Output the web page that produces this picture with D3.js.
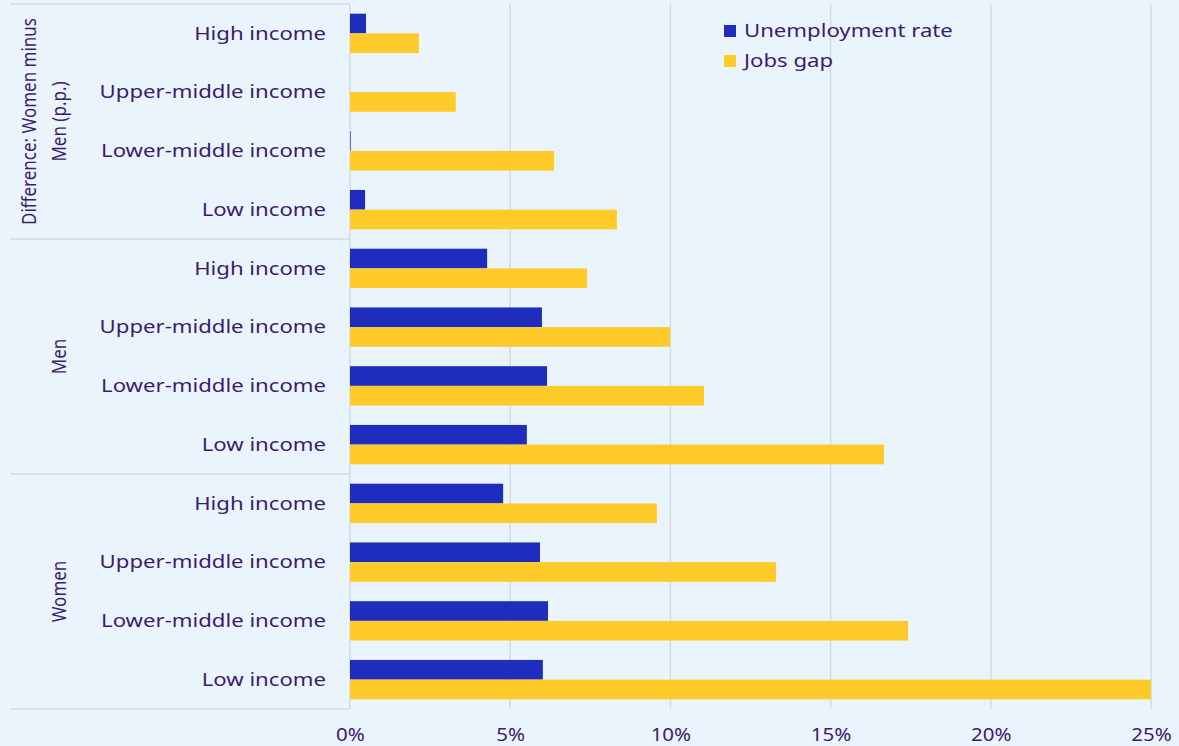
<!DOCTYPE html>
<html>
<head>
<meta charset="utf-8">
<script src="https://cdn.jsdelivr.net/npm/d3@7"></script>
<style>
  body { margin: 0; background: #eaf4fd; }
  svg { display: block; font-family: "Noto Sans", "Open Sans", sans-serif; }
</style>
</head>
<body>
<svg id="chart" width="1179" height="746"></svg>
<script>
// groups top to bottom, income levels within each group
var groups = ["Difference: Women minus Men (p.p.)", "Men", "Women"];
var groupLines = [["Difference: Women minus", "Men (p.p.)"], ["Men"], ["Women"]];
var incomes = ["High income", "Upper-middle income", "Lower-middle income", "Low income"];
var seriesNames = ["Unemployment rate", "Jobs gap"];
var colors = ["#1e2dbe", "#ffcb2b"];

// values in %, same order as groups x incomes
var unemployment = [0.5, 0, 0.02, 0.47, 4.28, 5.99, 6.15, 5.52, 4.78, 5.93, 6.18, 6.02];
var jobsGap = [2.15, 3.3, 6.37, 8.33, 7.4, 9.99, 11.05, 16.67, 9.58, 13.3, 17.42, 25.0];
var xTicks = [0, 5, 10, 15, 20, 25];

var textColor = "#3a1d6e";
var gridColor = "#d6d9e0";

var svg = d3.select("#chart");
var plotTop = 4, plotBottom = 709, plotLeft = 350, plotRight = 1151;

// the reference glyphs are a bit wider than Noto Sans: stretch text horizontally
function widen(sel, factor) {
    sel.each(function () {
        var w = this.getComputedTextLength();
        d3.select(this).attr("textLength", w * factor).attr("lengthAdjust", "spacingAndGlyphs");
    });
}

var rows = [];
groups.forEach(function (g, gi) {
    incomes.forEach(function (inc, ii) {
        var k = gi * incomes.length + ii;
        rows.push({ key: k, group: gi, label: inc, values: [unemployment[k], jobsGap[k]] });
    });
});

var x = d3.scaleLinear().domain([0, 25]).range([plotLeft, plotRight]);
var y = d3.scaleBand().domain(rows.map(function (d) { return d.key; }))
    .range([plotTop, plotBottom]).paddingInner(0.33).paddingOuter(0.165);
var ySub = d3.scaleBand().domain([0, 1]).range([0, y.bandwidth()]);

// grid lines
svg.append("g").selectAll("line")
    .data(xTicks.slice(1))
    .enter().append("line")
        .attr("x1", function (d) { return x(d); })
        .attr("x2", function (d) { return x(d); })
        .attr("y1", plotTop)
        .attr("y2", plotBottom)
        .attr("stroke", gridColor)
        .attr("stroke-width", 1.5);

// x axis labels
var xAxis = svg.append("g")
    .attr("transform", "translate(0," + plotBottom + ")")
    .call(d3.axisBottom(x).tickValues(xTicks).tickFormat(function (d) { return d + "%"; }).tickSize(0).tickPadding(19));
xAxis.select(".domain").remove();
xAxis.selectAll("text").attr("fill", textColor).attr("font-size", 18)
    .attr("font-family", "'Noto Sans', sans-serif")
    .call(widen, 1.14);

// group separators
var groupEdges = [0, 1, 2, 3].map(function (i) {
    return i === 0 ? plotTop : (i === 3 ? plotBottom : (y(i * 4 - 1) + y.bandwidth() + y(i * 4)) / 2);
});
svg.append("g").selectAll("line")
    .data(groupEdges)
    .enter().append("line")
        .attr("x1", 10)
        .attr("x2", plotLeft)
        .attr("y1", function (d) { return d; })
        .attr("y2", function (d) { return d; })
        .attr("stroke", gridColor)
        .attr("stroke-width", 1.5);

// y axis line
svg.append("line")
    .attr("x1", plotLeft).attr("x2", plotLeft)
    .attr("y1", plotTop).attr("y2", plotBottom)
    .attr("stroke", gridColor).attr("stroke-width", 1.5);

// bars
var rowG = svg.append("g").selectAll("g")
    .data(rows)
    .enter().append("g")
        .attr("transform", function (d) { return "translate(0," + y(d.key) + ")"; });

rowG.selectAll("rect")
    .data(function (d) { return d.values; })
    .enter().append("rect")
        .attr("x", x(0))
        .attr("y", function (d, i) { return ySub(i); })
        .attr("width", function (d) { return x(d) - x(0); })
        .attr("height", ySub.bandwidth())
        .attr("fill", function (d, i) { return colors[i]; });

// category labels
rowG.append("text")
    .attr("x", 326)
    .attr("y", y.bandwidth() / 2)
    .attr("dy", "0.35em")
    .attr("text-anchor", "end")
    .attr("fill", textColor)
    .attr("font-size", 18)
    .text(function (d) { return d.label; })
    .call(widen, 1.23);

// group labels
groupLines.forEach(function (lines, gi) {
    var cy = (groupEdges[gi] + groupEdges[gi + 1]) / 2;
    var t = svg.append("text")
        .attr("transform", "translate(" + (lines.length > 1 ? 36 : 66) + "," + cy + ") scale(1.15,1) rotate(-90)")
        .attr("text-anchor", "middle")
        .attr("fill", textColor)
        .attr("font-size", 17);
    lines.forEach(function (l, li) {
        t.append("tspan")
            .attr("x", 0)
            .attr("dy", li === 0 ? "0" : "1.55em")
            .text(l);
    });
});

// legend
var legend = svg.append("g").attr("transform", "translate(724,31)");
seriesNames.forEach(function (name, i) {
    var lg = legend.append("g").attr("transform", "translate(0," + (i * 30) + ")");
    lg.append("rect").attr("x", 0).attr("y", -6).attr("width", 12).attr("height", 12).attr("fill", colors[i]);
    lg.append("text").attr("x", 20).attr("dy", "0.35em")
        .attr("fill", textColor).attr("font-size", 18)
        .text(name)
        .call(widen, 1.23);
});
</script>
</body>
</html>
